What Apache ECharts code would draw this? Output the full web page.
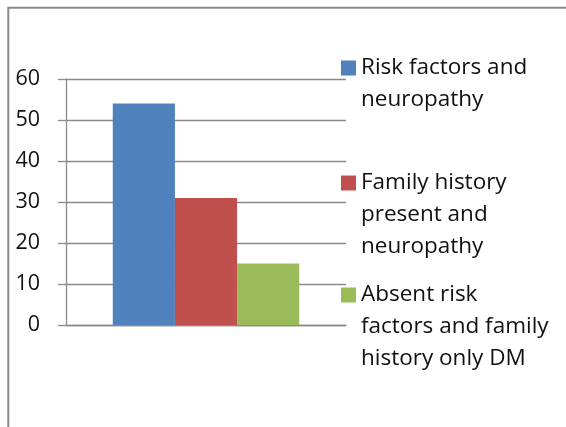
<!DOCTYPE html>
<html>
<head>
<meta charset="utf-8">
<script src="https://cdn.jsdelivr.net/npm/echarts@6/dist/echarts.min.js"></script>
<style>
  html, body { margin: 0; padding: 0; background: #fff; }
  #chart { width: 566px; height: 427px; }
</style>
</head>
<body>
<div id="chart"></div>
<script>
// Chart data
var categories = [''];
var seriesNames = [
  'Risk factors and\nneuropathy',
  'Family history\npresent and\nneuropathy',
  'Absent risk\nfactors and family\nhistory only DM'
];
var seriesValues = [54, 31, 15];
var seriesColors = ['#4F81BD', '#C0504D', '#9BBB59'];
var yTicks = { min: 0, max: 60, interval: 10 };

var FONT = '"Open Sans", "Noto Sans", sans-serif';
var LINE_H = 32;
var GRID_GRAY = '#8a8a8a';

// Each legend entry is its own block. Legend text is centred on its icon,
// so blank lines are added above the label to put the first line beside the icon.
var legendIconCenters = [68, 183, 295];
var legends = seriesNames.map(function (name, i) {
  var lines = name.split('\n').length;
  var boxH = (2 * lines - 1) * LINE_H;
  var lead = new Array(lines).join('\n');
  return {
    data: [name],
    orient: 'vertical',
    left: 341,
    top: legendIconCenters[i] - boxH / 2,
    padding: 0,
    itemWidth: 15,
    itemHeight: 15,
    itemGap: 0,
    icon: 'rect',
    selectedMode: false,
    formatter: function (n) { return lead + n; },
    textStyle: {
      fontFamily: FONT,
      fontSize: 22.5,
      color: '#111',
      lineHeight: LINE_H
    }
  };
});

var series = seriesNames.map(function (name, i) {
  return {
    name: name,
    type: 'bar',
    data: [seriesValues[i]],
    barGap: '0%',
    barCategoryGap: '33.4%',
    itemStyle: { color: seriesColors[i] },
    emphasis: { disabled: true }
  };
});

var chart = echarts.init(document.getElementById('chart'), null, { renderer: 'canvas' });
chart.setOption({
  animation: false,
  backgroundColor: '#fff',
  color: seriesColors,
  graphic: [{
    type: 'rect',
    shape: { x: 8.3, y: 7.7, width: 700, height: 600 },
    style: { fill: 'none', stroke: GRID_GRAY, lineWidth: 2 },
    silent: true
  }],
  legend: legends,
  grid: { left: 66, top: 79, width: 280, height: 246, containLabel: false },
  xAxis: {
    type: 'category',
    data: categories,
    axisLine: { show: true, lineStyle: { color: GRID_GRAY, width: 1.3 } },
    axisTick: { show: false },
    axisLabel: { show: false },
    splitLine: { show: false }
  },
  yAxis: {
    type: 'value',
    min: yTicks.min,
    max: yTicks.max,
    interval: yTicks.interval,
    axisLine: { show: true, lineStyle: { color: GRID_GRAY, width: 1.3 } },
    axisTick: { show: true, length: 8, lineStyle: { color: GRID_GRAY, width: 1.3 } },
    axisLabel: { fontFamily: FONT, fontSize: 21.5, color: '#111', margin: 26 },
    splitLine: { show: true, lineStyle: { color: GRID_GRAY, width: 1.3 } }
  },
  series: series
});
</script>
</body>
</html>
